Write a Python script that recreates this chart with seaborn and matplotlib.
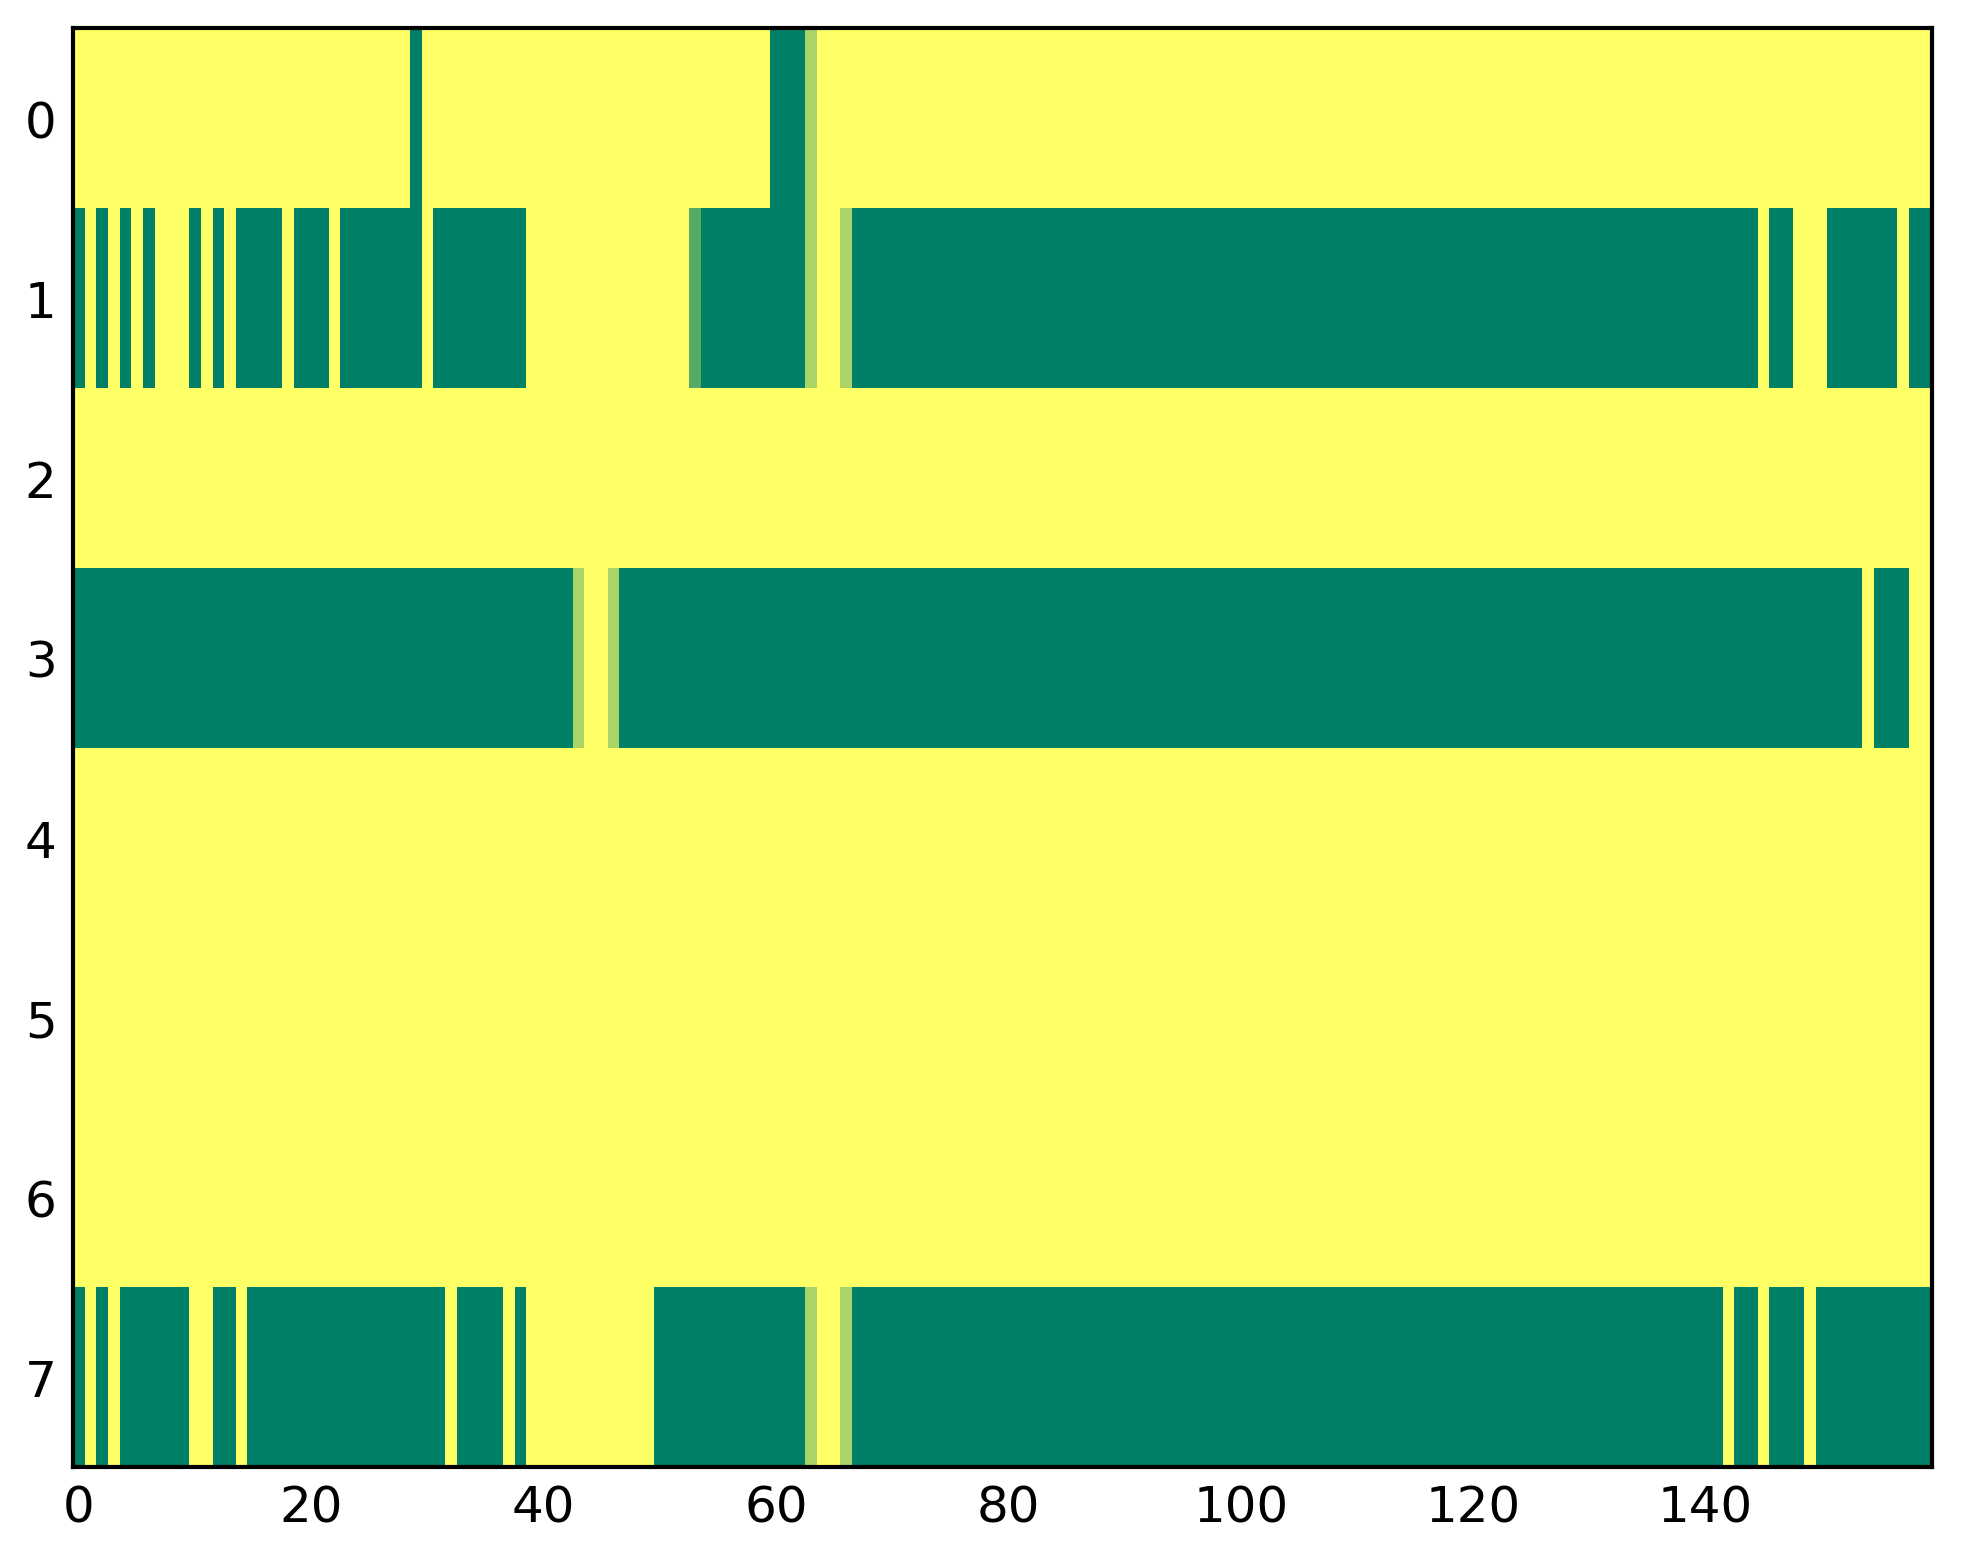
import matplotlib
matplotlib.use("Agg")
import matplotlib.pyplot as plt
import seaborn as sns
import numpy as np

# one character per column: 0 = 0, 1 = 1/3, 2 = 2/3, 3 = 1 (values are digit / 3)
row_0 = ("33333333333333333333" "33333333303333333333" "33333333333333333333" "00023333333333333333"
         "33333333333333333333" "33333333333333333333" "33333333333333333333" "33333333333333333333")
row_1 = ("03030303330303000030" "00300000003000000003" "33333333333331000000" "00023320000000000000"
         "00000000000000000000" "00000000000000000000" "00000000000000000000" "00000300333000000300")
row_2 = "3" * 160
row_3 = ("00000000000000000000" "00000000000000000000" "00023320000000000000" "00000000000000000000"
         "00000000000000000000" "00000000000000000000" "00000000000000000000" "00000000000000300033")
row_4 = "3" * 160
row_5 = "3" * 160
row_6 = "3" * 160
row_7 = ("03030000003300300000" "00000000000030000303" "33333333330000000000" "00023320000000000000"
         "00000000000000000000" "00000000000000000000" "00000000000000000000" "00300300030000000000")

rows = [row_0, row_1, row_2, row_3, row_4, row_5, row_6, row_7]
x_ticks = [0, 20, 40, 60, 80, 100, 120, 140]
y_ticks = [0, 1, 2, 3, 4, 5, 6, 7]

values = np.array([[int(ch) / 3 for ch in r] for r in rows])

sns.set_style("ticks")
plt.rcParams["font.family"] = ["DejaVu Sans"]
plt.rcParams["font.size"] = 12

fig = plt.figure(figsize=(1963 / 300, 1564 / 300), dpi=300)
ax = fig.add_axes([0.0373, 0.0614, 0.9469, 0.9198])

sns.heatmap(values, cmap="summer", vmin=0, vmax=1, cbar=False,
            xticklabels=False, yticklabels=False, linewidths=0, ax=ax)

ax.set_xticks([t + 0.5 for t in x_ticks])
ax.set_xticklabels([str(t) for t in x_ticks], rotation=0)
ax.set_yticks([t + 0.5 for t in y_ticks])
ax.set_yticklabels([str(t) for t in y_ticks], rotation=0)

for s in ax.spines.values():
    s.set_visible(True)
    s.set_linewidth(1.0)
    s.set_color("black")

ax.tick_params(direction="in", top=True, right=True, length=4, width=0.6,
               pad=4, labelsize=12, colors="black")

fig.savefig("out.png", dpi=300, facecolor="white")
